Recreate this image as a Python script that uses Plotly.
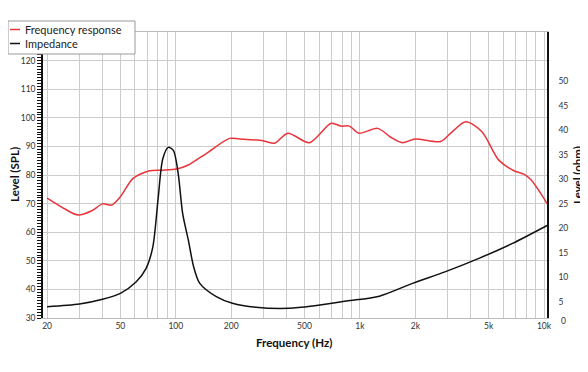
import plotly.graph_objects as go
import math

# Frequency response (SPL, left axis)
freq_fr = [20, 25, 29.5, 35, 40, 44.8, 50, 58.6, 72, 85, 101, 117, 147, 196, 222, 298, 344, 406,
           532, 698, 788, 877, 988, 1250, 1470, 1700, 2000, 2740, 3170, 3760, 4600, 5680, 6860,
           7770, 8500, 10400]
spl = [71.9, 68.1, 66.0, 67.5, 69.9, 69.5, 72.4, 78.8, 81.5, 81.7, 82.1, 83.5, 87.6, 92.8, 92.6,
       92.0, 91.1, 94.6, 91.3, 98.1, 97.1, 97.1, 94.6, 96.3, 93.2, 91.3, 92.6, 91.7, 95.1, 98.6,
       95.1, 85.2, 81.5, 80.3, 78.3, 70.0]

# Impedance (ohm, right axis)
freq_z = [20, 30, 40, 50, 61, 69, 75, 80, 85, 91, 97, 103, 109, 117, 125, 135, 166, 203, 272,
          413, 555, 845, 1275, 1930, 2920, 4430, 6700, 10400]
imp = [4.05, 4.6, 5.55, 6.77, 9.13, 11.85, 16.2, 25.7, 34.2, 36.5, 35.9, 31.2, 23.0, 17.6, 12.2,
       8.8, 6.1, 4.74, 3.93, 3.72, 4.19, 5.2, 6.2, 8.8, 11.2, 13.9, 16.9, 20.6]

x_grid = [20, 30, 40, 50, 60, 70, 80, 90, 100, 200, 300, 400, 500, 600, 700, 800, 900,
          1000, 2000, 3000, 4000, 5000, 6000, 7000, 8000, 9000, 10000]
x_labels = {20: "20", 50: "50", 100: "100", 200: "200", 500: "500", 1000: "1k",
            2000: "2k", 5000: "5k", 10000: "10k"}
spl_ticks = [30, 40, 50, 60, 70, 80, 90, 100, 110, 120]
ohm_ticks = [5, 10, 15, 20, 25, 30, 35, 40, 45, 50]
series_names = ["Frequency response", "Impedance"]
series_colors = ["#e8343c", "#111111"]

FONT = "Lato"
OFF = 8  # browser body margin offset
W, H = 588 - OFF, 372 - OFF
L, R, T, B = 43 - OFF, 41, 32 - OFF, 54
PW, PH = W - L - R, H - T - B


def px(x):  # page pixel x -> paper
    return (x - OFF - L) / PW


def py(y):  # page pixel y -> paper
    return (H - B - (y - OFF)) / PH


fig = go.Figure()
fig.add_trace(go.Scatter(x=freq_fr, y=spl, mode="lines", name=series_names[0],
                         line=dict(color=series_colors[0], width=1.5, shape="spline", smoothing=0.8)))
fig.add_trace(go.Scatter(x=freq_z, y=imp, mode="lines", name=series_names[1], yaxis="y2",
                         line=dict(color=series_colors[1], width=1.5, shape="spline", smoothing=0.8)))

fig.update_layout(
    width=W, height=H,
    margin=dict(l=L, r=R, t=T, b=B, autoexpand=False),
    paper_bgcolor="white", plot_bgcolor="white",
    font=dict(family=FONT, color="#333"),
    showlegend=False,
    xaxis=dict(type="log", range=[math.log10(19.0), math.log10(10380)], automargin=False,
               tickvals=x_grid, ticktext=[x_labels.get(v, "") for v in x_grid],
               tickfont=dict(size=8.5, color="#333"), ticks="",
               showgrid=True, gridcolor="#cccccc", gridwidth=1,
               showline=True, linecolor="#bbbbbb", linewidth=1, mirror=True,
               zeroline=False),
    yaxis=dict(range=[30, 130], tickvals=spl_ticks, tickfont=dict(size=8.5, color="#333"), automargin=False,
               ticks="outside", ticklen=4, tickwidth=1.2, tickcolor="#111",
               minor=dict(dtick=1, ticks="outside", ticklen=4, tickwidth=1.2, tickcolor="#111", showgrid=False),
               showgrid=True, gridcolor="#cccccc", gridwidth=1,
               showline=True, linecolor="#111", linewidth=1.5, zeroline=False),
    yaxis2=dict(range=[1.75, 60], overlaying="y", side="right", tickvals=ohm_ticks, automargin=False,
                tickfont=dict(size=8.5, color="#333"), ticks="outside", ticklen=8, tickcolor="rgba(0,0,0,0)",
                showgrid=False, showline=True, linecolor="#111", linewidth=1.5, zeroline=False),
)
fig.add_annotation(text="0", x=px(563), y=py(321), xref="paper", yref="paper", showarrow=False,
                   font=dict(size=8.5, color="#333"), xanchor="center", yanchor="middle")

# axis titles
title_font = dict(size=11.5, color="#111", family=FONT)
fig.add_annotation(text="<b>Frequency (Hz)</b>", x=px(294), y=py(342), xref="paper", yref="paper",
                   showarrow=False, xanchor="center", yanchor="middle", font=title_font)
fig.add_annotation(text="<b>Level (SPL)</b>", x=px(14), y=py(175), xref="paper", yref="paper",
                   showarrow=False, xanchor="center", yanchor="middle", textangle=-90, font=title_font)
fig.add_annotation(text="<b>Level (ohm)</b>", x=px(577), y=py(175), xref="paper", yref="paper",
                   showarrow=False, xanchor="center", yanchor="middle", textangle=-90, font=title_font)

# legend box (drawn manually to match compact reference legend)
fig.add_shape(type="rect", xref="paper", yref="paper", x0=px(8), x1=px(135), y0=py(54), y1=py(21),
              line=dict(color="#999", width=1), fillcolor="white", layer="above")
for i, (name, col) in enumerate(zip(series_names, series_colors)):
    yy = 29.5 + 14 * i
    fig.add_shape(type="line", xref="paper", yref="paper", x0=px(10), x1=px(20), y0=py(yy), y1=py(yy),
                  line=dict(color=col, width=1.5), layer="above")
    fig.add_annotation(text=name, x=px(23), y=py(yy), xref="paper", yref="paper", showarrow=False,
                       xanchor="left", yanchor="middle", font=dict(size=11, color="#222"))

fig.write_html("out.html")
